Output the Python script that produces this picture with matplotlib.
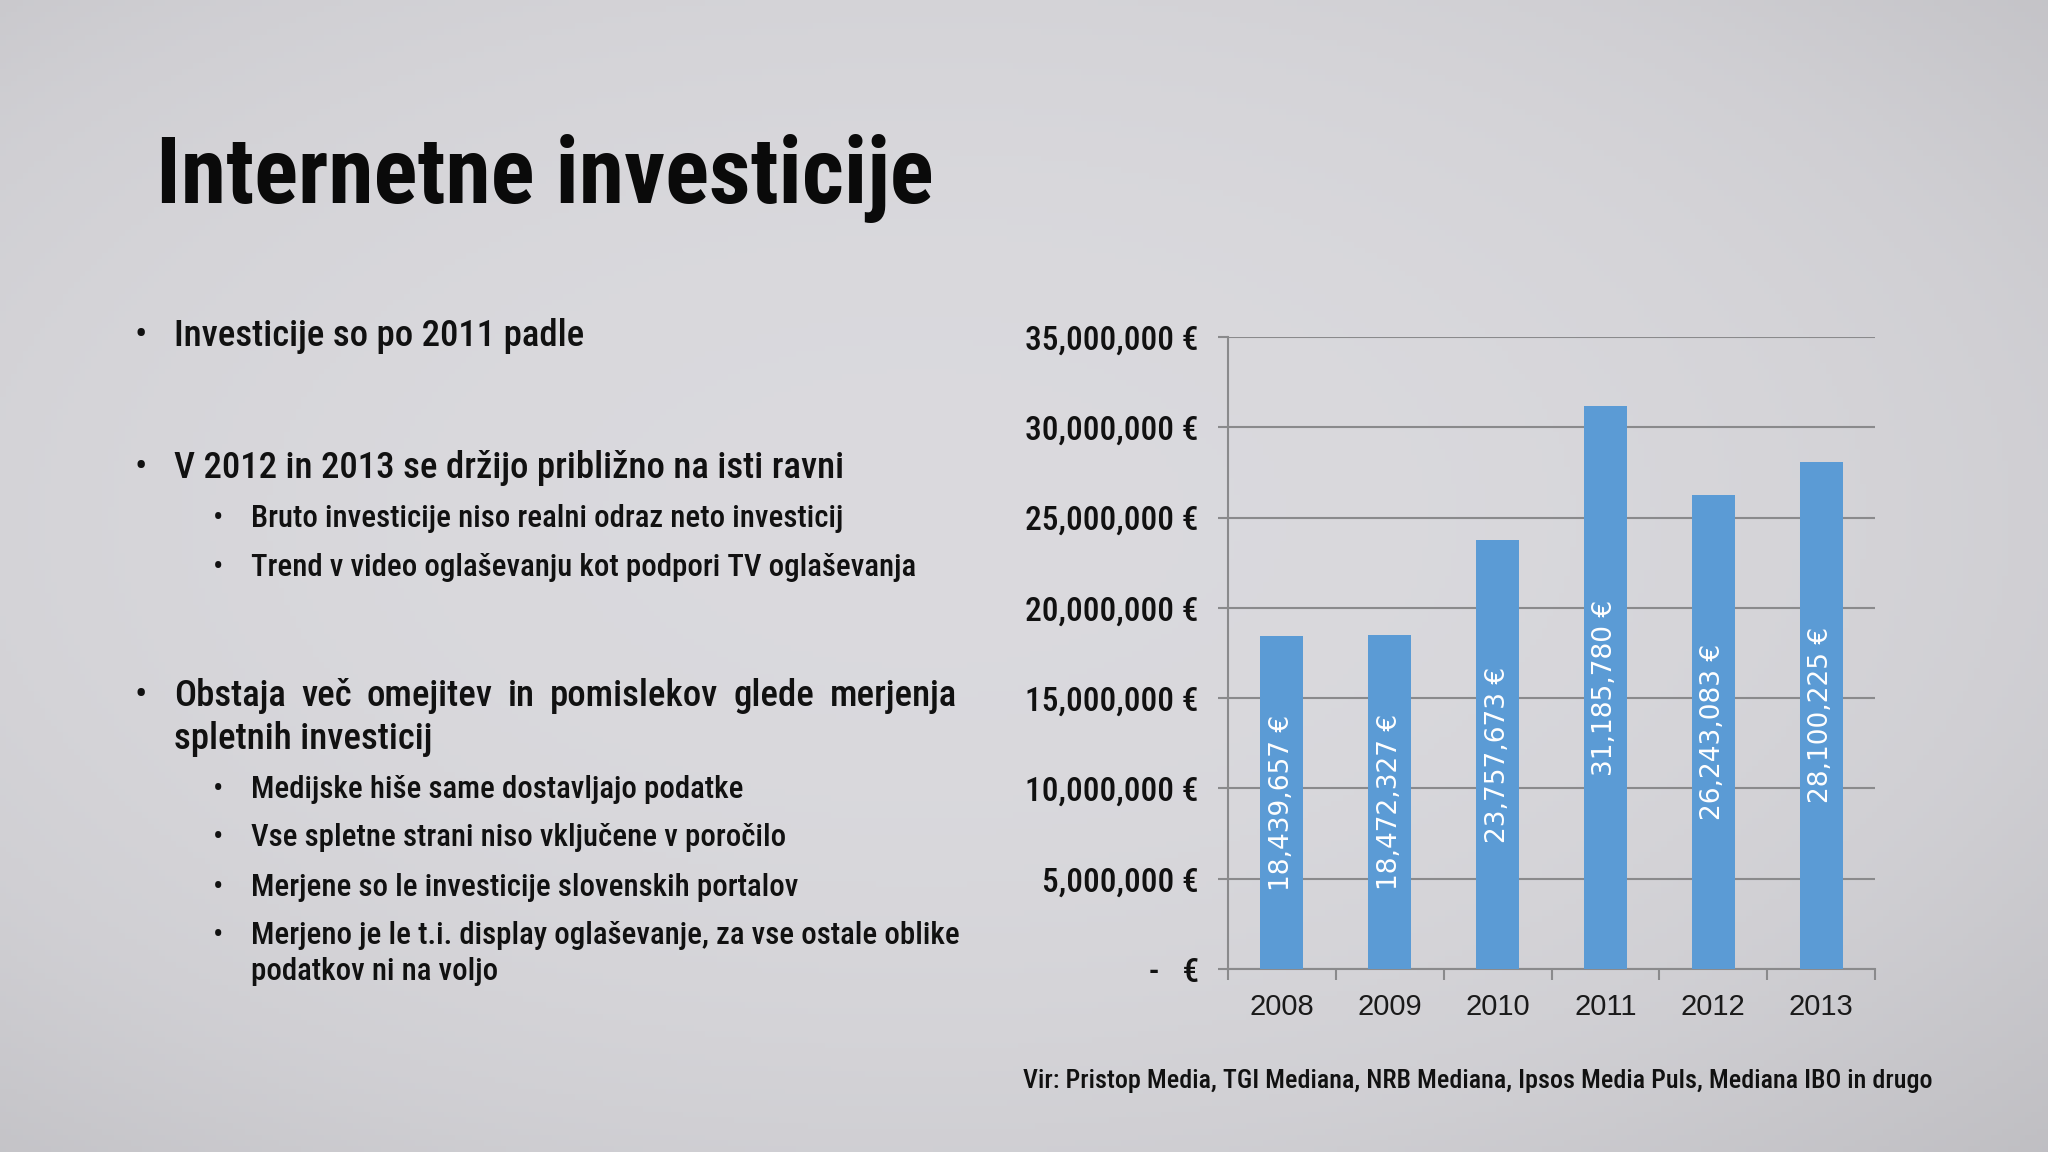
import matplotlib.pyplot as plt
from matplotlib.ticker import FuncFormatter
import numpy as np

years = ["2008", "2009", "2010", "2011", "2012", "2013"]
investments = [18439657, 18472327, 23757673, 31185780, 26243083, 28100225]
y_ticks = [0, 5000000, 10000000, 15000000, 20000000, 25000000, 30000000, 35000000]

title = "Internetne investicije"
bullets = [
    (0, "Investicije so po 2011 padle"),
    (0, "V 2012 in 2013 se držijo približno na isti ravni"),
    (1, "Bruto investicije niso realni odraz neto investicij"),
    (1, "Trend v video oglaševanju kot podpori TV oglaševanja"),
    (0, "Obstaja več omejitev in pomislekov glede merjenja"),
    (0, "spletnih investicij"),
    (1, "Medijske hiše same dostavljajo podatke"),
    (1, "Vse spletne strani niso vključene v poročilo"),
    (1, "Merjene so le investicije slovenskih portalov"),
    (1, "Merjeno je le t.i. display oglaševanje, za vse ostale oblike"),
    (1, "podatkov ni na voljo"),
]
source = "Vir: Pristop Media, TGI Mediana, NRB Mediana, Ipsos Media Puls, Mediana IBO in drugo"

W, H = 2048, 1152
NARROW = ["Roboto Condensed", "Sofia Sans Condensed", "DejaVu Sans"]
TITLE_FONT = ["Roboto Condensed", "Oswald", "Sofia Sans Condensed", "DejaVu Sans"]
BAR_COLOR = "#5b9bd5"
GRID_COLOR = "#8a8a8c"

fig = plt.figure(figsize=(W / 100, H / 100), dpi=100)
fig.patch.set_facecolor("#d4d3d8")

# soft paper-like shading
bg = fig.add_axes([0, 0, 1, 1])
yy, xx = np.mgrid[0:1:200j, 0:1:360j]
shade = -((xx - 0.45) ** 2 + (yy - 0.45) ** 2)
bg.imshow(shade, cmap="Greys_r", vmin=-0.9, vmax=0.05, alpha=0.18,
          aspect="auto", extent=[0, 1, 0, 1])
bg.set_axis_off()


def fx(px):
    return px / W


def fy(py):
    return 1 - py / H


# title
fig.text(fx(156), fy(203), title, fontsize=66, fontweight="bold",
         family=TITLE_FONT, color="#0a0a0a", va="baseline")

# bullet text
line_y = [336, 468, 519, 567, 696, 739, 790, 838, 887, 935, 972]
for (lvl, txt), py in zip(bullets, line_y):
    if lvl == 0:
        size, xb, xt = 26.5, 141, 174
    else:
        size, xb, xt = 22.2, 218, 251
    show_dot = not (txt.startswith("spletnih") or txt.startswith("podatkov ni"))
    if show_dot:
        fig.text(fx(xb), fy(py), "•", fontsize=size, family=NARROW,
                 color="#111111", va="center", ha="center")
    if txt.startswith("Obstaja"):
        # justified line
        words = txt.split(" ")
        texts = [fig.text(0, fy(py), w, fontsize=size, family=NARROW,
                          fontweight="medium", color="#111111", va="center")
                 for w in words]
        fig.canvas.draw()
        r = fig.canvas.get_renderer()
        widths = [t.get_window_extent(r).width for t in texts]
        gap = (957 - xt - sum(widths)) / (len(words) - 1)
        x = xt
        for t, w in zip(texts, widths):
            t.set_x(fx(x))
            x += w + gap
    else:
        fig.text(fx(xt), fy(py), txt, fontsize=size, family=NARROW,
                 fontweight="medium", color="#111111", va="center")

fig.text(fx(1023), fy(1081), source, fontsize=18.8, family=NARROW,
         fontweight="medium", color="#111111", va="center")

# chart
ax = fig.add_axes([fx(1228), fy(969), fx(1875 - 1228), (969 - 337) / H])
ax.set_facecolor("none")
x = np.arange(len(years))
bars = ax.bar(x, investments, width=0.4, color=BAR_COLOR, zorder=3)
for b, v in zip(bars, investments):
    ax.text(b.get_x() + b.get_width() / 2, v / 2, f"{v:,} €",
            rotation=90, ha="center", va="center", color="white",
            fontsize=19, family="DejaVu Sans", zorder=4)

ax.set_xlim(-0.5, len(years) - 0.5)
ax.set_ylim(0, 35000000)
ax.set_yticks(y_ticks)
ax.yaxis.set_major_formatter(FuncFormatter(
    lambda v, p: "-   €" if v == 0 else f"{int(v):,} €"))
ax.grid(True, axis="y", color=GRID_COLOR, linewidth=1.5, zorder=0)
ax.set_xticks(x)
ax.set_xticklabels(years)
ax.set_xticks(np.arange(-0.5, len(years)), minor=True)
ax.tick_params(axis="x", which="major", length=0, pad=17, labelsize=21,
               labelcolor="#1a1a1a")
ax.tick_params(axis="x", which="minor", length=8, width=1.5, color=GRID_COLOR)
ax.tick_params(axis="y", length=7, width=1.5, color=GRID_COLOR, pad=14,
               labelsize=24, labelcolor="#111111")
for lab in ax.get_yticklabels():
    lab.set_family(NARROW)
    lab.set_fontweight("medium")
for lab in ax.get_xticklabels():
    lab.set_family(["Liberation Sans", "DejaVu Sans"])
for s in ["top", "right"]:
    ax.spines[s].set_visible(False)
for s in ["left", "bottom"]:
    ax.spines[s].set_color(GRID_COLOR)
    ax.spines[s].set_linewidth(1.5)

fig.savefig("out.png", dpi=100, facecolor=fig.get_facecolor())
